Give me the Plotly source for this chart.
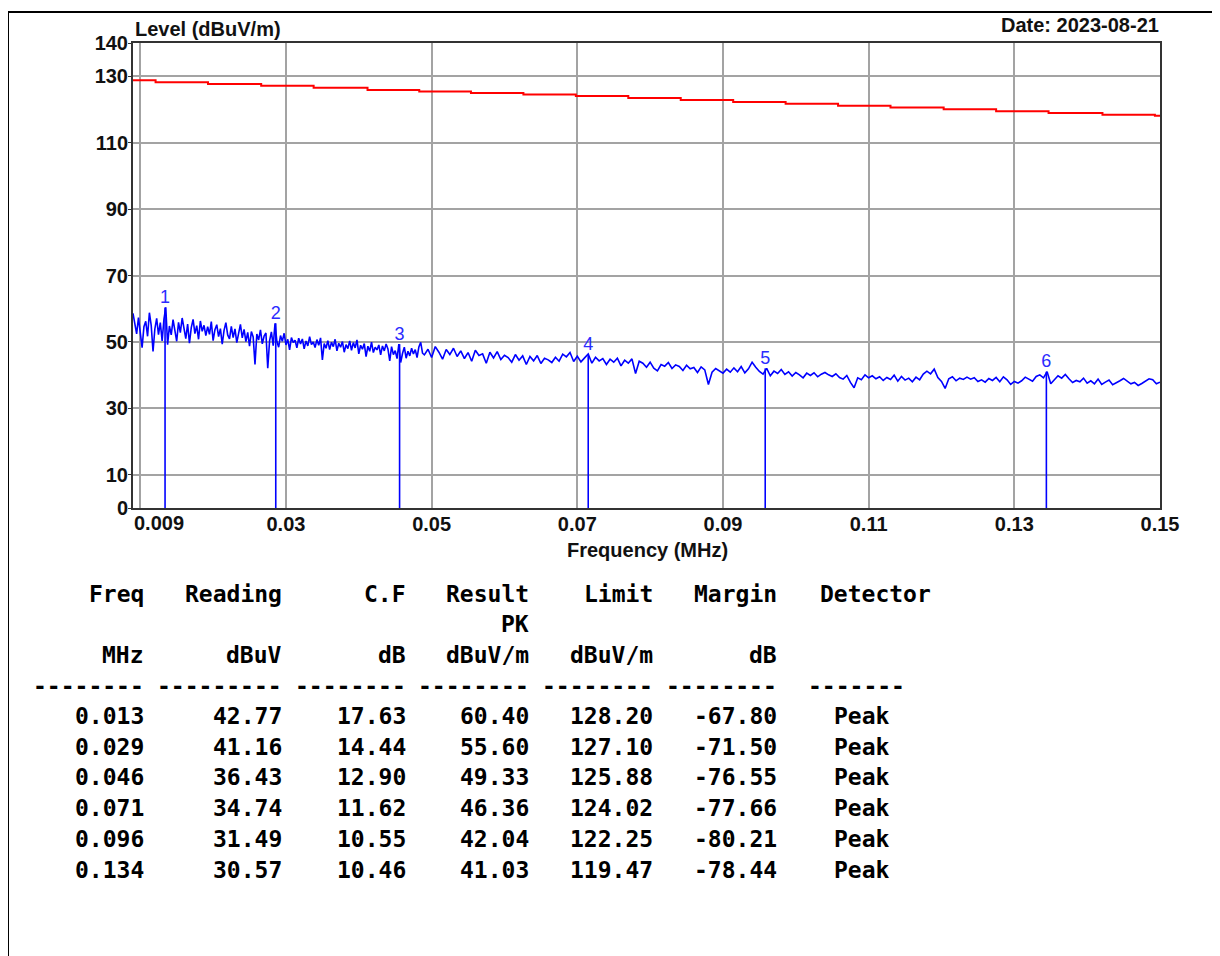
import numpy as np
import plotly.graph_objects as go

# ---------------- data ----------------
# measured peak trace (dBuV/m)
# dense part of the sweep: 0.009 .. 0.049 MHz
trace_level_low = [
    58.6, 55.1, 52.4, 57.3, 53.0, 48.3, 54.6, 56.2, 51.7, 58.8,
    55.0, 47.1, 53.9, 57.1, 52.2, 55.8, 50.3, 56.9, 60.4, 49.2,
    54.8, 52.1, 56.7, 53.4, 50.2, 55.9, 52.8, 57.2, 53.6, 51.0,
    55.4, 49.6, 54.3, 56.8, 52.5, 54.9, 50.8, 56.3, 53.2, 55.0,
    51.9, 54.6, 52.3, 56.1, 50.4, 53.7, 55.2, 51.6, 54.0, 49.3,
    53.5, 55.8, 52.1, 50.9, 54.7, 51.3, 53.9, 49.8, 52.6, 55.3,
    51.2, 53.8, 50.1, 52.9, 48.7, 53.1, 51.5, 43.2, 52.4, 50.6,
    53.6, 49.4, 51.8, 52.7, 42.1, 50.3, 53.0, 48.9, 55.6, 50.2,
    48.4, 51.9, 50.2, 52.6, 49.1, 50.8, 47.6, 51.3, 49.8, 50.5,
    48.2, 51.1, 49.4, 50.9, 47.9, 50.3, 48.8, 51.6, 49.2, 50.0,
    48.3, 50.7, 49.0, 51.2, 44.6, 49.5, 48.1, 50.4, 47.7, 49.9,
    48.6, 50.8, 47.3, 49.6, 48.4, 50.1, 46.9, 49.2, 48.0, 50.3,
    47.5, 49.8, 48.2, 50.6, 46.4, 49.0, 47.8, 49.5, 45.6, 48.7,
    47.2, 49.9, 46.8, 48.4, 47.6, 49.1, 46.1, 48.8, 47.3, 49.4,
    47.9, 44.3, 48.6, 46.2, 47.4, 45.0, 49.33, 43.8, 46.5, 48.4,
    45.1, 47.2, 45.8, 48.1, 46.4, 47.7, 45.3, 48.5, 49.9, 46.6,
    46.1,
]
# rest of the sweep: 0.0495 .. 0.150 MHz
trace_level_high = [
    47.8, 45.3, 48.6, 46.9, 44.8, 47.7, 46.2, 48.1, 45.6,
    47.3, 45.0, 46.8, 44.2, 47.5, 45.9, 46.4, 43.6, 46.9, 45.2,
    47.1, 44.7, 46.0, 45.3, 43.9, 46.2, 44.5, 45.8, 43.2, 45.6,
    44.3, 45.9, 43.5, 45.1, 44.6, 43.8, 45.4, 44.2, 46.3, 45.5,
    46.8, 44.1, 45.7, 44.0, 45.2, 46.36, 43.6, 45.4, 44.3, 45.0,
    43.2, 44.8, 43.9, 45.1, 42.8, 44.5, 43.6, 44.9, 40.5, 44.2,
    43.6, 42.4, 43.9, 42.1, 41.3, 43.2, 42.7, 43.8, 42.0, 43.1,
    42.6, 41.4, 43.0, 41.9, 42.3, 40.8, 42.5, 41.6, 37.2, 40.9,
    42.0, 41.2, 40.6, 41.8, 40.9, 42.2, 41.0, 42.6, 40.7, 41.9,
    43.9, 42.4, 41.1, 40.3, 42.04, 39.8, 41.2, 40.5, 41.7, 40.2,
    41.0, 39.7, 40.8, 40.1, 39.2, 40.6, 39.9, 40.7, 39.5, 40.3,
    40.8, 40.1, 39.6, 40.4, 39.3, 38.8, 39.9, 37.8, 36.2, 39.2,
    38.6, 40.1, 39.2, 39.8, 38.9, 39.5, 38.4, 39.3, 38.7, 40.0,
    38.2, 39.6, 38.5, 39.1, 38.0, 39.4, 38.6, 40.3, 41.2, 40.4,
    41.8, 39.3, 38.1, 36.0, 38.9, 39.5, 38.3, 39.1, 38.7, 39.4,
    38.8, 39.2, 38.1, 38.6, 37.9, 39.0, 38.4, 39.3, 38.0, 39.5,
    38.6, 37.2, 38.1, 37.6, 38.3, 39.4, 38.7, 38.2, 39.6, 40.1,
    39.2, 41.03, 37.4, 38.6, 39.8, 39.1, 40.2, 38.9, 37.8, 38.4,
    38.0, 39.1, 37.6, 38.3, 37.4, 38.8, 37.2, 37.9, 38.5, 37.1,
    37.6, 38.3, 39.0, 38.2, 37.4, 37.8, 36.9, 37.5, 38.1, 38.9,
    38.6, 37.4, 37.9,
]
sweep_start, sweep_split, sweep_next, sweep_stop = 0.009, 0.049, 0.0495, 0.150
trace_freq = np.concatenate([
    np.linspace(sweep_start, sweep_split, len(trace_level_low)),
    np.linspace(sweep_next, sweep_stop, len(trace_level_high)),
])
trace_level = trace_level_low + trace_level_high

# limit line (stepped)
limit_freq = [0.009, 0.0121, 0.0193, 0.0266, 0.0338, 0.0412, 0.0483, 0.0554,
              0.0626, 0.0698, 0.0770, 0.0842, 0.0914, 0.0986, 0.1058, 0.1130,
              0.1203, 0.1275, 0.1347, 0.1421, 0.1493, 0.150]
limit_level = [128.75, 128.20, 127.65, 127.10, 126.49, 125.88, 125.41, 124.95,
               124.48, 124.02, 123.43, 122.84, 122.25, 121.69, 121.14, 120.58,
               120.03, 119.47, 118.92, 118.40, 118.10, 118.10]

# markers (positions) and result table
marker_freq = [0.0134, 0.0286, 0.0456, 0.0715, 0.0958, 0.1344]
tbl_freq = ["0.013", "0.029", "0.046", "0.071", "0.096", "0.134"]
tbl_reading = [42.77, 41.16, 36.43, 34.74, 31.49, 30.57]
tbl_cf = [17.63, 14.44, 12.90, 11.62, 10.55, 10.46]
tbl_result = [60.40, 55.60, 49.33, 46.36, 42.04, 41.03]
tbl_limit = [128.20, 127.10, 125.88, 124.02, 122.25, 119.47]
tbl_margin = [-67.80, -71.50, -76.55, -77.66, -80.21, -78.44]
tbl_detector = ["Peak"] * 6

y_ticks = [0, 10, 30, 50, 70, 90, 110, 130, 140]
x_grid = [0.01, 0.03, 0.05, 0.07, 0.09, 0.11, 0.13, 0.15]
x_labels = ["", "0.03", "0.05", "0.07", "0.09", "0.11", "0.13", "0.15"]

# ---------------- layout helpers ----------------
W, H = 1220, 956
OFF = 8                      # page body margin
PL, PR, PT, PB = 133, 1160, 43, 508   # plot area in page pixels
PW, PH = PR - PL, PB - PT


def px(x):
    return (x - PL) / PW


def py(y):
    return (PB - y) / PH


SANS = "Liberation Sans, Arial, sans-serif"
MONO = "DejaVu Sans Mono, monospace"

fig = go.Figure()

fig.add_trace(go.Scatter(x=limit_freq, y=limit_level, mode="lines",
                         line=dict(color="#ff0000", width=2, shape="hv"),
                         hoverinfo="skip"))
fig.add_trace(go.Scatter(x=trace_freq, y=trace_level, mode="lines",
                         line=dict(color="#0000ff", width=1.6),
                         hoverinfo="skip"))

mx, my = [], []
for f, v in zip(marker_freq, tbl_result):
    mx += [f, f, None]
    my += [0, v, None]
fig.add_trace(go.Scatter(x=mx, y=my, mode="lines",
                         line=dict(color="#0000ff", width=1.6),
                         hoverinfo="skip"))
fig.add_trace(go.Scatter(x=marker_freq, y=tbl_result, mode="text",
                         text=[str(i + 1) for i in range(len(marker_freq))],
                         textposition="top center",
                         textfont=dict(family=SANS, size=18, color="#2b2bff"),
                         hoverinfo="skip", cliponaxis=False))

fig.update_xaxes(range=[sweep_start, sweep_stop], tickvals=x_grid, ticktext=x_labels,
                 showgrid=True, gridcolor="#a3a3a3", gridwidth=1.6,
                 showline=True, linecolor="#333333", linewidth=2, mirror=True,
                 ticks="", zeroline=False, ticklabelstandoff=-3,
                 tickfont=dict(family=SANS, size=20, color="#111111", weight="bold"))
fig.update_yaxes(range=[0, 140], tickvals=y_ticks,
                 showgrid=True, gridcolor="#a3a3a3", gridwidth=1.6,
                 showline=True, linecolor="#333333", linewidth=2, mirror=True,
                 ticks="outside", ticklen=3, tickcolor="#333333", zeroline=False,
                 ticklabelstandoff=-4,
                 tickfont=dict(family=SANS, size=20, color="#111111", weight="bold"))

ann = []
# titles
ann.append(dict(text="Level (dBuV/m)", x=px(133), y=py(29), xanchor="left", yanchor="middle",
                font=dict(family=SANS, size=20, color="#111111", weight="bold")))
ann.append(dict(text="Date: 2023-08-21", x=px(1161), y=py(25), xanchor="right", yanchor="middle",
                font=dict(family=SANS, size=20, color="#111111", weight="bold")))
ann.append(dict(text="0.009", x=px(132), y=py(523), xanchor="left", yanchor="middle",
                font=dict(family=SANS, size=20, color="#111111", weight="bold")))
ann.append(dict(text="Frequency (MHz)", x=px(647), y=py(550), xanchor="center", yanchor="middle",
                font=dict(family=SANS, size=20, color="#111111", weight="bold")))

# result table
tf = dict(family=MONO, size=23, color="#000000", weight="bold")
col_right = [146, 284, 408, 531, 655, 779]
headers = ["Freq", "Reading", "C.F", "Result", "Limit", "Margin"]
units = ["MHz", "dBuV", "dB", "dBuV/m", "dBuV/m", "dB"]
dashes = ["--------", "---------", "--------", "--------", "--------", "--------"]
y_head, y_pk, y_unit, y_dash = 594, 624, 655, 686
row_y = [716, 746.5, 777, 808, 839, 869.5]


def cell(text, xr, yc, anchor="right"):
    ann.append(dict(text=text, x=px(xr), y=py(yc), xanchor=anchor, yanchor="middle",
                    font=tf))


for i in range(6):
    cell(headers[i], col_right[i], y_head)
    cell(units[i], col_right[i], y_unit)
    cell(dashes[i], col_right[i], y_dash)
cell("PK", col_right[3], y_pk)
cell("Detector", 818, y_head, "left")
cell("-------", 806, y_dash, "left")

cols = [tbl_freq,
        [f"{v:.2f}" for v in tbl_reading],
        [f"{v:.2f}" for v in tbl_cf],
        [f"{v:.2f}" for v in tbl_result],
        [f"{v:.2f}" for v in tbl_limit],
        [f"{v:.2f}" for v in tbl_margin]]
for c, vals in enumerate(cols):
    for r, t in enumerate(vals):
        cell(t, col_right[c], row_y[r])
for r, t in enumerate(tbl_detector):
    cell(t, 832, row_y[r], "left")

for a in ann:
    a.update(xref="paper", yref="paper", showarrow=False)

shapes = [
    dict(type="line", xref="paper", yref="paper", x0=px(8), x1=px(W + OFF), y0=py(12), y1=py(12),
         line=dict(color="#000000", width=2)),
    dict(type="line", xref="paper", yref="paper", x0=px(8), x1=px(8), y0=py(12), y1=py(H + OFF),
         line=dict(color="#000000", width=2)),
]

fig.update_layout(width=W, height=H,
                  margin=dict(l=PL - OFF, r=W - (PR - OFF), t=PT - OFF, b=H - (PB - OFF)),
                  paper_bgcolor="white", plot_bgcolor="white", showlegend=False,
                  annotations=ann, shapes=shapes)

fig.write_html("out.html")
